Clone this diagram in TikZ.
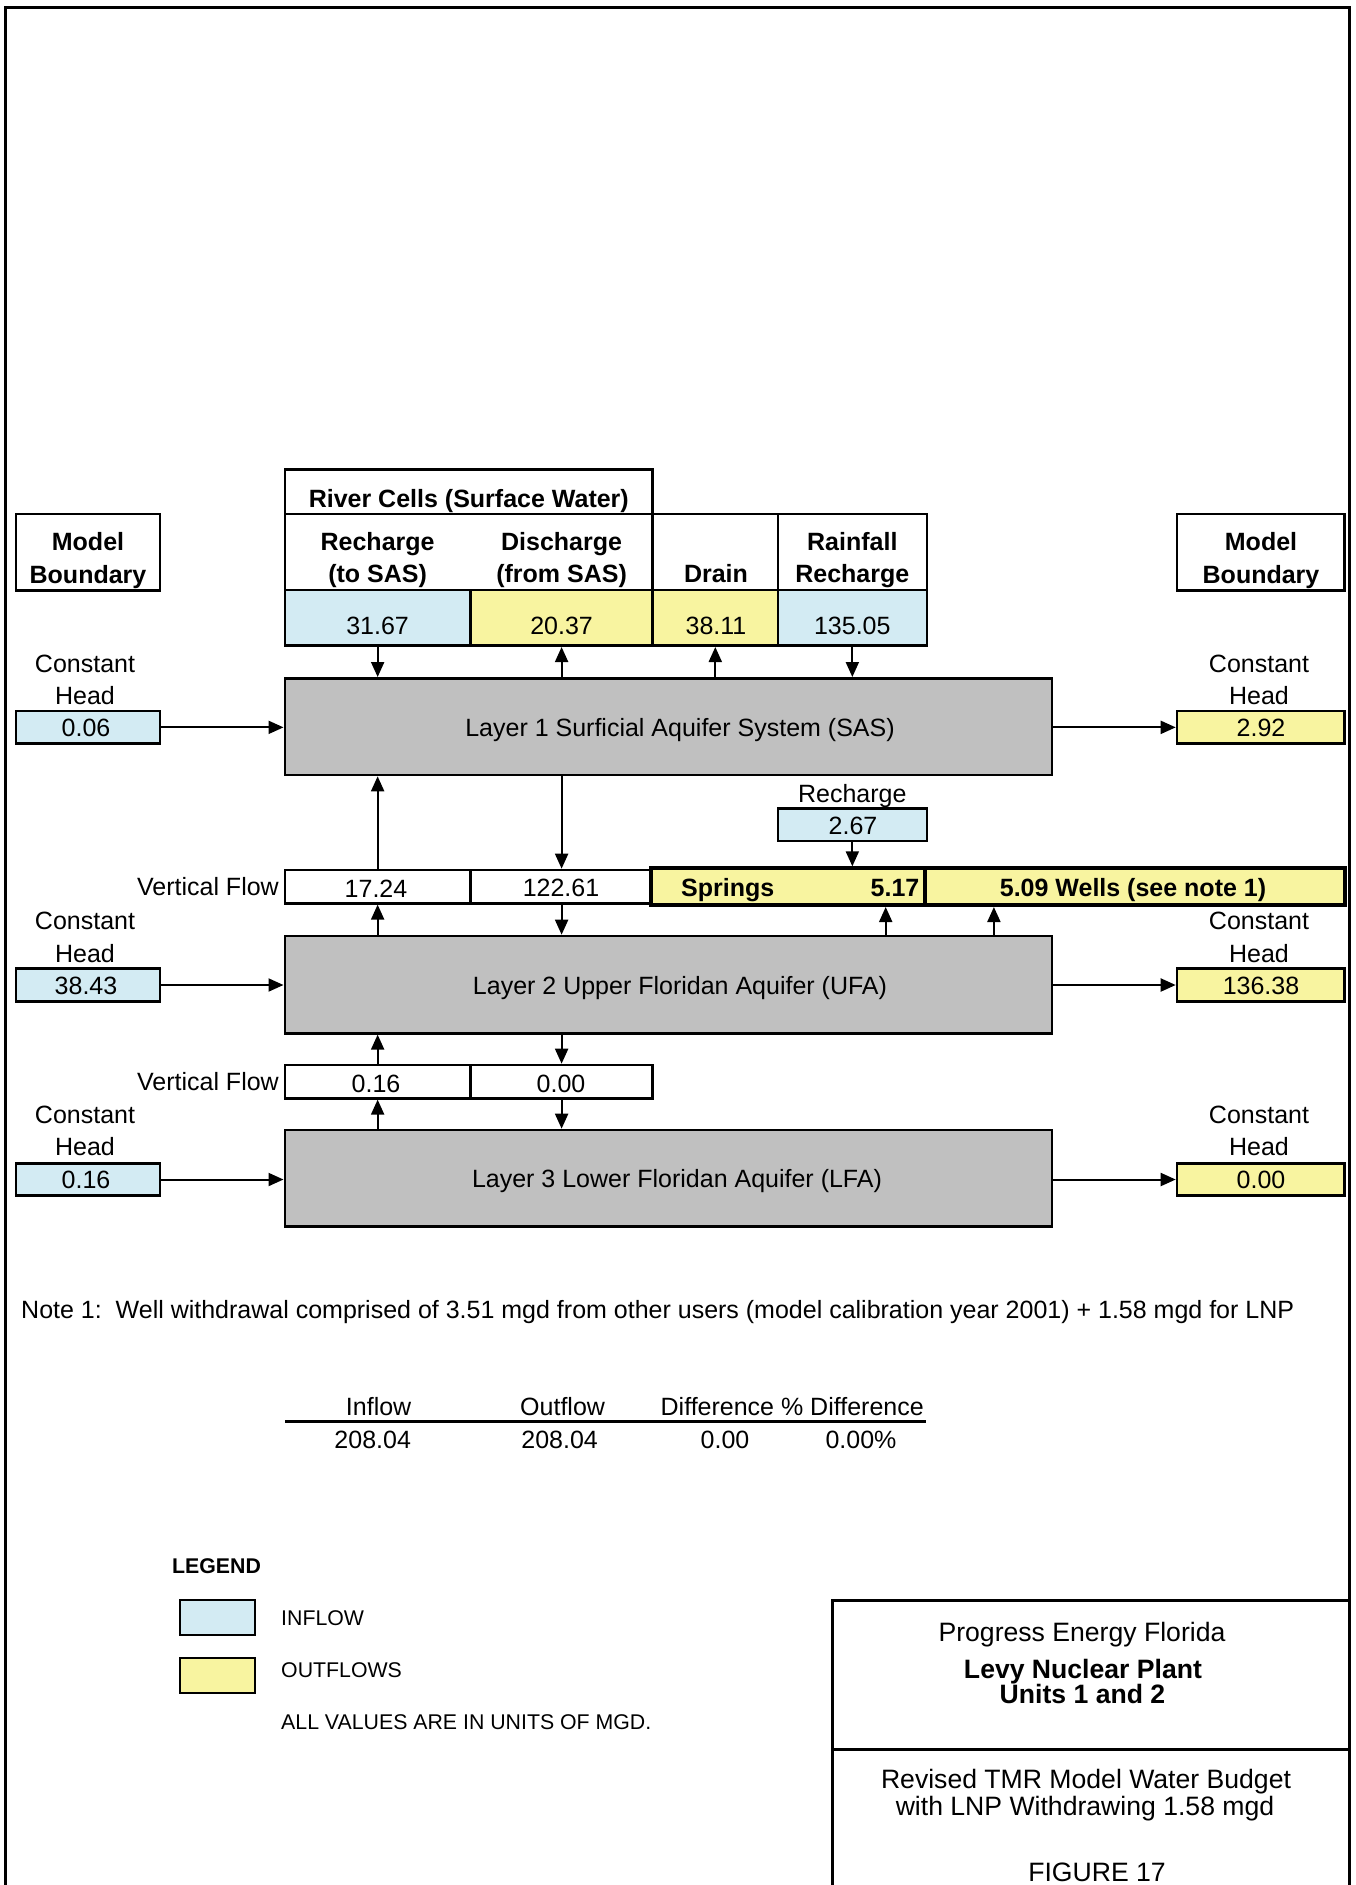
\documentclass[tikz,border=0pt]{standalone}
\usepackage{fontspec}
\setmainfont{Liberation Sans}
\usetikzlibrary{arrows.meta}
\definecolor{blu}{RGB}{211,235,243}
\definecolor{yel}{RGB}{248,244,160}
\definecolor{gry}{RGB}{192,192,192}
\begin{document}
\begin{tikzpicture}[x=1pt,y=-1pt,
  t/.style={inner sep=0pt, text height=18pt, text depth=0pt, font=\fontsize{25}{30}\selectfont},
  tb/.style={t, font=\fontsize{25}{30}\selectfont\bfseries},
  tl/.style={inner sep=0pt, text height=15.3pt, text depth=0pt, font=\fontsize{21.3}{25}\selectfont},
  tlb/.style={tl, font=\fontsize{21.3}{25}\selectfont\bfseries},
  tt/.style={inner sep=0pt, text height=19pt, text depth=0pt, font=\fontsize{26.6}{32}\selectfont},
  ttb/.style={tt, font=\fontsize{26.6}{32}\selectfont\bfseries},
  bx/.style={draw, line width=2.6pt, inner sep=0pt, rectangle},
  thk/.style={draw, line width=4pt, inner sep=0pt, rectangle},
  layer/.style={bx, fill=gry, minimum width=767.1pt},
  lbox/.style={bx, minimum width=144pt},
  rbox/.style={bx, minimum width=167.6pt},
  arr/.style={line width=2pt, -{Triangle[length=15pt,width=13pt]}},
  rule/.style={line width=3pt}
]
\fill[white] (0,0) rectangle (1356,1885);
\useasboundingbox (0,0) rectangle (1356,1885);
% frame
\draw[rule] (5.5,1885) -- (5.5,7.5) -- (1349.5,7.5) -- (1349.5,1885);

% model boundaries
\node[lbox, minimum height=76.7pt] (MBL) at (88,552.35) {};
\node[tb] (MBLt1) at (88,541) {Model};
\node[tb] (MBLt2) at (88,574) {Boundary};
\node[rbox, minimum height=76.7pt] (MBR) at (1260.8,552.35) {};
\node[tb] (MBRt1) at (1261,541) {Model};
\node[tb] (MBRt2) at (1261,574) {Boundary};

% river cells header and labels
\node[bx, minimum width=367.9pt, minimum height=44.7pt] (RCh) at (468.75,491.65) {};
\node[tb] (RChT) at (468.8,498) {River Cells (Surface Water)};
\node[bx, minimum width=367.9pt, minimum height=76pt] (RCl) at (468.75,552) {};
\node[bx, minimum width=125.2pt, minimum height=76pt] (Dh) at (715.3,552) {};
\node[bx, minimum width=148.9pt, minimum height=76pt] (Rh) at (852.35,552) {};
\node[tb] (lab1a) at (377.6,541) {Recharge};
\node[tb] (lab1b) at (377.6,573.5) {(to SAS)};
\node[tb] (lab2a) at (561.6,541) {Discharge};
\node[tb] (lab2b) at (561.6,573.5) {(from SAS)};
\node[tb] (lab3) at (716,573.5) {Drain};
\node[tb] (lab4a) at (852.3,541) {Rainfall};
\node[tb] (lab4b) at (852.3,573.5) {Recharge};

% value cells
\node[bx, fill=blu, minimum width=185.7pt, minimum height=55.7pt] (c1) at (377.65,617.85) {};
\node[bx, fill=yel, minimum width=182.2pt, minimum height=55.7pt] (c2) at (561.6,617.85) {};
\node[bx, fill=yel, minimum width=125.2pt, minimum height=55.7pt] (c3) at (715.3,617.85) {};
\node[bx, fill=blu, minimum width=148.9pt, minimum height=55.7pt] (c4) at (852.35,617.85) {};
\node[t] (c1t) at (377.6,625) {31.67};
\node[t] (c2t) at (561.6,625) {20.37};
\node[t] (c3t) at (716,625) {38.11};
\node[t] (c4t) at (852.3,625) {135.05};

% layers
\node[layer, minimum height=96.7pt] (L1) at (668.35,726.65) {};
\node[t] (L1t) at (680,727) {Layer 1 Surficial Aquifer System (SAS)};
\node[layer, minimum height=97.3pt] (L2) at (668.35,984.65) {};
\node[t] (L2t) at (680,985) {Layer 2 Upper Floridan Aquifer (UFA)};
\node[layer, minimum height=96.7pt] (L3) at (668.35,1178.35) {};
\node[t] (L3t) at (677,1178.5) {Layer 3 Lower Floridan Aquifer (LFA)};

% constant heads layer 1
\node[t] (ch1a) at (85,663.5) {Constant};
\node[t] (ch1b) at (85,695) {Head};
\node[lbox, fill=blu, minimum height=32.7pt] (ch1) at (88,727.35) {};
\node[t] (ch1t) at (86,727.5) {0.06};
\node[t] (cr1a) at (1259,663.5) {Constant};
\node[t] (cr1b) at (1259,695) {Head};
\node[rbox, fill=yel, minimum height=32.7pt] (cr1) at (1260.8,727.35) {};
\node[t] (cr1t) at (1261,727.5) {2.92};

% recharge 2.67
\node[t] (rchl) at (852.3,793.3) {Recharge};
\node[bx, fill=blu, minimum width=148.9pt, minimum height=32.7pt] (r267) at (852.35,824.65) {};
\node[t] (r267t) at (853,825) {2.67};

% vertical flow 1
\node[t, anchor=east] (vf1l) at (279,886.7) {Vertical Flow};
\node[bx, minimum width=185.7pt, minimum height=33.3pt] (v1) at (377.65,886.65) {};
\node[bx, minimum width=182.2pt, minimum height=33.3pt] (v2) at (561.6,886.65) {};
\node[t] (v1t) at (376,888.5) {17.24};
\node[t] (v2t) at (561,887) {122.61};
\node[thk, fill=yel, minimum width=274pt, minimum height=36.7pt] (sp) at (788.4,886.65) {};
\node[thk, fill=yel, minimum width=419.2pt, minimum height=36.7pt] (wl) at (1135,886.65) {};
\node[tb, anchor=west] (spt) at (681,887) {Springs};
\node[tb, anchor=east] (spv) at (919.5,887) {5.17};
\node[tb] (wlt) at (1133,887) {5.09 Wells (see note 1)};

% constant heads layer 2
\node[t] (ch2a) at (85,920) {Constant};
\node[t] (ch2b) at (85,953) {Head};
\node[lbox, fill=blu, minimum height=33.4pt] (ch2) at (88,985) {};
\node[t] (ch2t) at (86,985) {38.43};
\node[t] (cr2a) at (1259,920) {Constant};
\node[t] (cr2b) at (1259,953) {Head};
\node[rbox, fill=yel, minimum height=33.4pt] (cr2) at (1260.8,985) {};
\node[t] (cr2t) at (1261,985) {136.38};

% vertical flow 2
\node[t, anchor=east] (vf2l) at (279,1081.7) {Vertical Flow};
\node[bx, minimum width=185.7pt, minimum height=33.3pt] (v3) at (377.65,1081.65) {};
\node[bx, minimum width=182.2pt, minimum height=33.3pt] (v4) at (561.6,1081.65) {};
\node[t] (v3t) at (376,1083) {0.16};
\node[t] (v4t) at (561,1083) {0.00};

% constant heads layer 3
\node[t] (ch3a) at (85,1114.3) {Constant};
\node[t] (ch3b) at (85,1146.7) {Head};
\node[lbox, fill=blu, minimum height=32.4pt] (ch3) at (88,1179.5) {};
\node[t] (ch3t) at (86,1179.5) {0.16};
\node[t] (cr3a) at (1259,1114.3) {Constant};
\node[t] (cr3b) at (1259,1146.7) {Head};
\node[rbox, fill=yel, minimum height=32.4pt] (cr3) at (1260.8,1179.5) {};
\node[t] (cr3t) at (1261,1179.5) {0.00};

% arrows top
\draw[arr] (c1.south) -- (c1.south |- L1.north);
\draw[arr] (c2.south |- L1.north) -- (c2.south);
\draw[arr] (c3.south |- L1.north) -- (c3.south);
\draw[arr] (c4.south) -- (c4.south |- L1.north);
% horizontal arrows
\draw[arr] (ch1.east) -- (ch1.east -| L1.west);
\draw[arr] (L1.east |- cr1.west) -- (cr1.west);
\draw[arr] (ch2.east) -- (ch2.east -| L2.west);
\draw[arr] (L2.east |- cr2.west) -- (cr2.west);
\draw[arr] (ch3.east) -- (ch3.east -| L3.west);
\draw[arr] (L3.east |- cr3.west) -- (cr3.west);
% vertical flow arrows
\draw[arr] (v1.north) -- (v1.north |- L1.south);
\draw[arr] (v2.north |- L1.south) -- (v2.north);
\draw[arr] (v1.south |- L2.north) -- (v1.south);
\draw[arr] (v2.south) -- (v2.south |- L2.north);
\draw[arr] (v3.north) -- (v3.north |- L2.south);
\draw[arr] (v4.north |- L2.south) -- (v4.north);
\draw[arr] (v3.south |- L3.north) -- (v3.south);
\draw[arr] (v4.south) -- (v4.south |- L3.north);
% recharge and springs / wells
\draw[arr] (r267.south) -- (r267.south |- sp.north);
\coordinate (xs1) at (885.7,0);
\coordinate (xs2) at (993.9,0);
\draw[arr] (L2.north -| xs1) -- (sp.south -| xs1);
\draw[arr] (L2.north -| xs2) -- (wl.south -| xs2);

% note
\node[t, anchor=west] (note) at (21,1309) {Note 1:\ \ Well withdrawal comprised of 3.51 mgd from other users (model calibration year 2001) + 1.58 mgd for LNP};

% budget table
\node[t] (h1) at (378.6,1406.5) {Inflow};
\node[t] (h2) at (562.6,1406.5) {Outflow};
\node[t] (h3) at (792.2,1406.5) {Difference \% Difference};
\draw[rule] (285,1421) -- (925.6,1421);
\node[t] (b1) at (372.7,1439) {208.04};
\node[t] (b2) at (559.6,1439) {208.04};
\node[t] (b3) at (725,1439) {0.00};
\node[t] (b4) at (861,1439) {0.00\%};

% legend
\node[tlb, anchor=west] (leg) at (172,1566) {LEGEND};
\node[draw, line width=2pt, fill=blu, inner sep=0pt, minimum width=75pt, minimum height=35pt] (legin) at (217.5,1617.5) {};
\node[draw, line width=2pt, fill=yel, inner sep=0pt, minimum width=75pt, minimum height=35pt] (legout) at (217.5,1675) {};
\node[tl, anchor=west] (legint) at (281,1618) {INFLOW};
\node[tl, anchor=west] (legoutt) at (281,1670) {OUTFLOWS};
\node[tl, anchor=west] (legunits) at (281,1722) {ALL VALUES ARE IN UNITS OF MGD.};

% title block
\draw[rule] (832,1885) -- (832,1600.7) -- (1349.5,1600.7);
\draw[rule] (832,1749.3) -- (1349.5,1749.3);
\node[tt] (tb1) at (1082,1631.5) {Progress Energy Florida};
\node[ttb] (tb2) at (1083,1668.5) {Levy Nuclear Plant};
\node[ttb] (tb3) at (1082.5,1694) {Units 1 and 2};
\node[tt] (tb4) at (1086,1778.5) {Revised TMR Model Water Budget};
\node[tt] (tb5) at (1085,1805.5) {with LNP Withdrawing 1.58 mgd};
\node[tt] (tb6) at (1097,1872) {FIGURE 17};
\end{tikzpicture}
\end{document}
